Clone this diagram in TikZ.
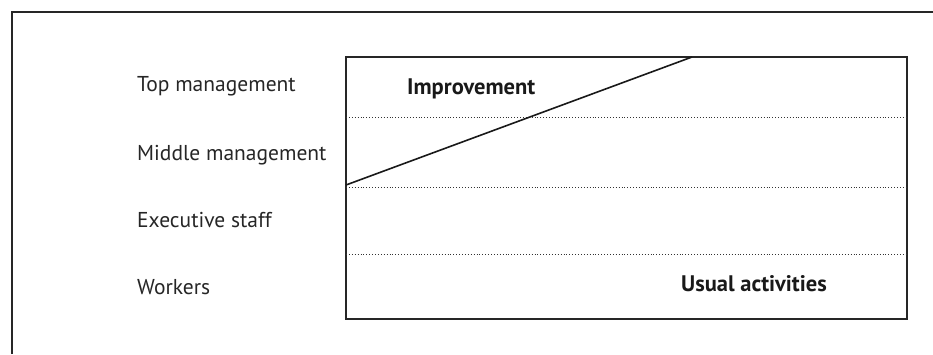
\documentclass[tikz,border=0pt]{standalone}
\usepackage{fontspec}
\setmainfont{PT Sans}
\begin{document}
\begin{tikzpicture}[x=1pt,y=-1pt,
  frame/.style={line width=1.7pt,draw=black!85},
  sep/.style={line width=0.9pt,dotted,draw=black!80},
  lvl/.style={anchor=west,inner sep=0pt,font=\fontsize{21.5}{24}\selectfont,text=black!85},
  zone/.style={anchor=west,inner sep=0pt,font=\fontsize{22.5}{25}\selectfont\bfseries,text=black!90}]
\useasboundingbox (0,0) rectangle (933,354);
\draw[frame] (12,354) -- (12,12) -- (933,12);
\draw[frame] (346,57) rectangle (907,319);
\coordinate (d1l) at (346,117); \coordinate (d1r) at (907,117);
\coordinate (d2l) at (346,187); \coordinate (d2r) at (907,187);
\coordinate (d3l) at (346,254); \coordinate (d3r) at (907,254);
\draw[sep] (d1l) -- (d1r);
\draw[sep] (d2l) -- (d2r);
\draw[sep] (d3l) -- (d3r);
\coordinate (ds) at (346,185);
\coordinate (de) at (692,57);
\draw[line width=1.6pt,black!90] (ds) -- (de);
\node[lvl] (top) at (137,86) {Top management};
\node[lvl] (mid) at (137,155) {Middle management};
\node[lvl] (exe) at (137,220) {Executive staff};
\node[lvl] (wor) at (137,287) {Workers};
\node[zone] (imp) at (407,89) {Improvement};
\node[zone] (usu) at (681,284) {Usual activities};
\end{tikzpicture}
\end{document}
